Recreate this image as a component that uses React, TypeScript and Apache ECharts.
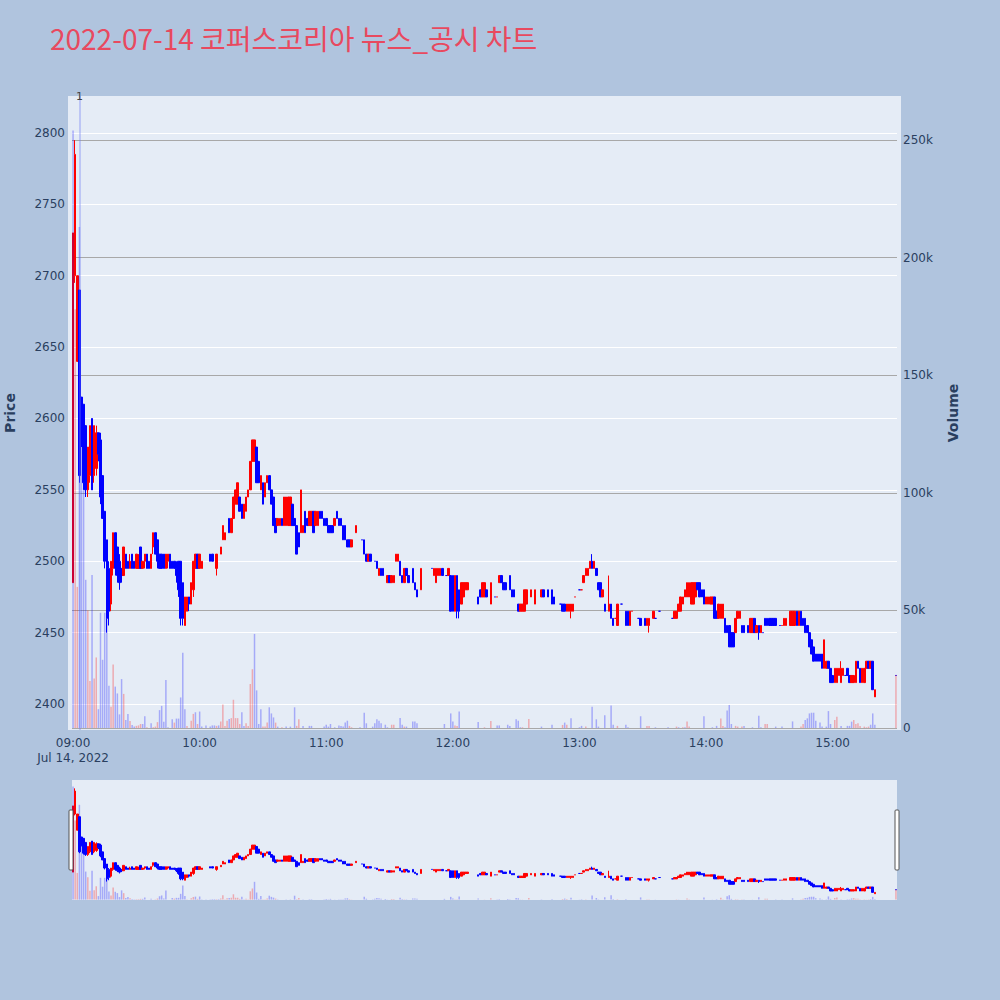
import React, { useEffect, useRef } from 'react';
import * as echarts from 'echarts';

const TITLE = '2022-07-14 코퍼스코리아 뉴스_공시 차트';
const DATE_LABEL = 'Jul 14, 2022';
const SESSION = ['09:00', '15:30'];
const HOUR_TICKS = ['09:00', '10:00', '11:00', '12:00', '13:00', '14:00', '15:00'];
const PRICE_RANGE = [2381.8, 2825.9];
const VOLUME_RANGE = [-850, 268700];
const NEWS: [string, string][] = [['09:03', '1']];

// [time, open, close, low, high]
const candles: [string, number, number, number, number][] = [
  ['09:00', 2485, 2730, 2485, 2730], ['09:01', 2700, 2785, 2695, 2795], ['09:02', 2640, 2700, 2640, 2700],
  ['09:03', 2690, 2560, 2555, 2690], ['09:04', 2615, 2585, 2580, 2615], ['09:05', 2610, 2555, 2550, 2610],
  ['09:06', 2595, 2550, 2545, 2595], ['09:07', 2550, 2580, 2545, 2580], ['09:08', 2560, 2595, 2555, 2595],
  ['09:09', 2600, 2550, 2550, 2600], ['09:10', 2560, 2595, 2555, 2595], ['09:11', 2565, 2590, 2560, 2595],
  ['09:12', 2590, 2575, 2570, 2590], ['09:13', 2585, 2545, 2540, 2590], ['09:14', 2560, 2530, 2530, 2560],
  ['09:15', 2535, 2500, 2495, 2535], ['09:16', 2515, 2460, 2450, 2515], ['09:17', 2495, 2465, 2455, 2500],
  ['09:18', 2470, 2500, 2465, 2500], ['09:19', 2495, 2520, 2490, 2520], ['09:20', 2520, 2495, 2490, 2520],
  ['09:21', 2510, 2490, 2485, 2510], ['09:22', 2500, 2485, 2480, 2505], ['09:23', 2495, 2490, 2485, 2495],
  ['09:24', 2490, 2510, 2490, 2510], ['09:25', 2505, 2495, 2495, 2505], ['09:26', 2500, 2495, 2495, 2500],
  ['09:27', 2495, 2500, 2495, 2505], ['09:28', 2505, 2495, 2495, 2505], ['09:29', 2500, 2495, 2495, 2500],
  ['09:30', 2495, 2505, 2495, 2505], ['09:31', 2495, 2500, 2495, 2505], ['09:32', 2510, 2495, 2495, 2510],
  ['09:33', 2495, 2500, 2495, 2500], ['09:34', 2500, 2505, 2495, 2505], ['09:35', 2505, 2495, 2495, 2505],
  ['09:36', 2500, 2495, 2495, 2500], ['09:37', 2495, 2505, 2495, 2505], ['09:38', 2510, 2520, 2505, 2520],
  ['09:39', 2520, 2505, 2505, 2520], ['09:40', 2515, 2500, 2495, 2515], ['09:41', 2505, 2495, 2495, 2505],
  ['09:42', 2505, 2495, 2495, 2505], ['09:43', 2505, 2495, 2495, 2505], ['09:44', 2495, 2505, 2495, 2505],
  ['09:45', 2500, 2505, 2495, 2505], ['09:46', 2505, 2495, 2495, 2505], ['09:47', 2500, 2495, 2495, 2500],
  ['09:48', 2500, 2495, 2495, 2500], ['09:49', 2495, 2490, 2485, 2500], ['09:50', 2500, 2480, 2475, 2500],
  ['09:51', 2500, 2460, 2455, 2500], ['09:52', 2485, 2460, 2455, 2485], ['09:53', 2455, 2475, 2455, 2475],
  ['09:54', 2465, 2475, 2465, 2475], ['09:55', 2475, 2470, 2465, 2475], ['09:56', 2470, 2485, 2470, 2485],
  ['09:57', 2480, 2500, 2475, 2500], ['09:58', 2495, 2505, 2495, 2505], ['09:59', 2505, 2495, 2495, 2505],
  ['10:00', 2495, 2505, 2495, 2505], ['10:01', 2495, 2500, 2495, 2500], ['10:05', 2505, 2500, 2500, 2505],
  ['10:06', 2505, 2500, 2500, 2505], ['10:08', 2495, 2505, 2490, 2505], ['10:10', 2505, 2510, 2505, 2510],
  ['10:11', 2515, 2525, 2515, 2525], ['10:12', 2515, 2520, 2515, 2520], ['10:14', 2530, 2520, 2520, 2530],
  ['10:15', 2520, 2530, 2520, 2530], ['10:16', 2530, 2545, 2530, 2545], ['10:17', 2540, 2550, 2540, 2550],
  ['10:18', 2540, 2555, 2540, 2555], ['10:19', 2545, 2535, 2535, 2545], ['10:20', 2540, 2530, 2530, 2540],
  ['10:21', 2530, 2540, 2530, 2540], ['10:22', 2535, 2545, 2535, 2545], ['10:23', 2545, 2550, 2545, 2550],
  ['10:24', 2550, 2570, 2550, 2570], ['10:25', 2570, 2585, 2570, 2585], ['10:26', 2570, 2585, 2570, 2585],
  ['10:27', 2580, 2555, 2555, 2580], ['10:28', 2570, 2555, 2555, 2570], ['10:29', 2550, 2560, 2550, 2560],
  ['10:30', 2555, 2540, 2540, 2555], ['10:31', 2545, 2555, 2545, 2555], ['10:32', 2555, 2560, 2555, 2560],
  ['10:33', 2560, 2550, 2550, 2560], ['10:34', 2550, 2540, 2540, 2550], ['10:35', 2545, 2525, 2525, 2545],
  ['10:36', 2530, 2520, 2520, 2530], ['10:37', 2525, 2530, 2525, 2530], ['10:38', 2525, 2530, 2525, 2530],
  ['10:39', 2530, 2525, 2525, 2530], ['10:40', 2525, 2545, 2525, 2545], ['10:41', 2525, 2545, 2525, 2545],
  ['10:42', 2525, 2545, 2525, 2545], ['10:43', 2525, 2545, 2525, 2545], ['10:44', 2540, 2525, 2525, 2540],
  ['10:45', 2530, 2525, 2525, 2530], ['10:46', 2525, 2505, 2505, 2525], ['10:47', 2520, 2510, 2510, 2520],
  ['10:48', 2520, 2550, 2520, 2550], ['10:49', 2520, 2525, 2520, 2525], ['10:50', 2535, 2520, 2520, 2535],
  ['10:51', 2530, 2525, 2525, 2530], ['10:52', 2525, 2535, 2525, 2535], ['10:53', 2525, 2535, 2525, 2535],
  ['10:54', 2535, 2520, 2520, 2535], ['10:55', 2525, 2535, 2525, 2535], ['10:56', 2525, 2535, 2525, 2535],
  ['10:57', 2535, 2530, 2530, 2535], ['10:58', 2535, 2530, 2530, 2535], ['10:59', 2530, 2525, 2525, 2530],
  ['11:00', 2530, 2525, 2525, 2530], ['11:01', 2525, 2520, 2520, 2525], ['11:02', 2525, 2520, 2520, 2525],
  ['11:03', 2525, 2520, 2520, 2525], ['11:04', 2525, 2530, 2525, 2530], ['11:05', 2535, 2530, 2530, 2535],
  ['11:06', 2530, 2525, 2525, 2530], ['11:07', 2530, 2525, 2525, 2530], ['11:08', 2525, 2515, 2515, 2525],
  ['11:09', 2525, 2515, 2515, 2525], ['11:10', 2515, 2510, 2510, 2515], ['11:11', 2515, 2510, 2510, 2515],
  ['11:12', 2510, 2515, 2510, 2515], ['11:14', 2520, 2525, 2520, 2525], ['11:17', 2515, 2515, 2515, 2515],
  ['11:18', 2515, 2505, 2505, 2515], ['11:19', 2505, 2500, 2500, 2505], ['11:20', 2500, 2505, 2500, 2505],
  ['11:21', 2505, 2500, 2500, 2505], ['11:23', 2500, 2500, 2500, 2500], ['11:24', 2500, 2495, 2495, 2500],
  ['11:25', 2490, 2495, 2490, 2495], ['11:26', 2495, 2490, 2490, 2495], ['11:27', 2495, 2490, 2490, 2495],
  ['11:29', 2485, 2490, 2485, 2490], ['11:30', 2490, 2485, 2485, 2490], ['11:31', 2485, 2490, 2485, 2490],
  ['11:32', 2485, 2490, 2485, 2490], ['11:33', 2500, 2505, 2500, 2505], ['11:34', 2500, 2505, 2500, 2505],
  ['11:35', 2500, 2490, 2490, 2500], ['11:36', 2490, 2485, 2485, 2490], ['11:37', 2485, 2495, 2485, 2495],
  ['11:38', 2495, 2490, 2490, 2495], ['11:39', 2490, 2485, 2485, 2490], ['11:41', 2495, 2485, 2485, 2495],
  ['11:42', 2485, 2480, 2480, 2485], ['11:43', 2480, 2475, 2475, 2480], ['11:45', 2480, 2495, 2480, 2495],
  ['11:50', 2495, 2495, 2495, 2495], ['11:51', 2490, 2495, 2490, 2495], ['11:52', 2485, 2495, 2485, 2495],
  ['11:53', 2490, 2495, 2490, 2495], ['11:54', 2490, 2495, 2490, 2495], ['11:55', 2495, 2490, 2490, 2495],
  ['11:57', 2490, 2490, 2490, 2490], ['11:58', 2490, 2495, 2490, 2495], ['11:59', 2490, 2465, 2465, 2490],
  ['12:00', 2490, 2465, 2465, 2490], ['12:01', 2465, 2490, 2465, 2490], ['12:02', 2490, 2465, 2460, 2490],
  ['12:03', 2480, 2465, 2460, 2480], ['12:04', 2470, 2485, 2470, 2485], ['12:05', 2475, 2485, 2475, 2485],
  ['12:06', 2480, 2485, 2480, 2485], ['12:07', 2480, 2485, 2480, 2485], ['12:12', 2475, 2470, 2470, 2475],
  ['12:13', 2480, 2475, 2475, 2480], ['12:14', 2475, 2485, 2475, 2485], ['12:15', 2475, 2485, 2475, 2485],
  ['12:16', 2480, 2475, 2475, 2480], ['12:18', 2470, 2485, 2470, 2485], ['12:20', 2475, 2475, 2475, 2475],
  ['12:21', 2475, 2475, 2475, 2475], ['12:22', 2485, 2490, 2485, 2490], ['12:23', 2490, 2485, 2485, 2490],
  ['12:24', 2485, 2480, 2480, 2485], ['12:25', 2485, 2480, 2480, 2485], ['12:27', 2490, 2480, 2480, 2490],
  ['12:28', 2480, 2475, 2475, 2480], ['12:29', 2480, 2475, 2475, 2480], ['12:31', 2470, 2465, 2465, 2470],
  ['12:32', 2465, 2470, 2465, 2470], ['12:33', 2465, 2470, 2465, 2470], ['12:34', 2465, 2480, 2465, 2480],
  ['12:35', 2470, 2480, 2470, 2480], ['12:37', 2475, 2480, 2475, 2480], ['12:39', 2470, 2480, 2470, 2480],
  ['12:42', 2475, 2480, 2475, 2480], ['12:43', 2480, 2475, 2475, 2480], ['12:45', 2480, 2475, 2475, 2480],
  ['12:47', 2480, 2470, 2470, 2480], ['12:48', 2475, 2470, 2470, 2475], ['12:51', 2470, 2470, 2470, 2470],
  ['12:52', 2470, 2465, 2465, 2470], ['12:53', 2470, 2465, 2465, 2470], ['12:54', 2465, 2470, 2465, 2470],
  ['12:55', 2465, 2470, 2465, 2470], ['12:56', 2465, 2470, 2460, 2470], ['12:57', 2465, 2470, 2465, 2470],
  ['12:58', 2475, 2475, 2475, 2475], ['13:00', 2480, 2480, 2480, 2480], ['13:01', 2480, 2480, 2480, 2480],
  ['13:02', 2485, 2490, 2485, 2490], ['13:03', 2490, 2495, 2490, 2495], ['13:04', 2490, 2495, 2490, 2495],
  ['13:05', 2495, 2500, 2495, 2500], ['13:06', 2500, 2495, 2495, 2505], ['13:07', 2495, 2500, 2495, 2500],
  ['13:08', 2495, 2490, 2490, 2495], ['13:09', 2485, 2480, 2480, 2485], ['13:10', 2485, 2475, 2475, 2485],
  ['13:11', 2475, 2480, 2475, 2480], ['13:12', 2470, 2465, 2465, 2470], ['13:14', 2465, 2470, 2465, 2490],
  ['13:15', 2470, 2460, 2460, 2470], ['13:16', 2460, 2455, 2455, 2460], ['13:17', 2460, 2460, 2460, 2460],
  ['13:18', 2455, 2470, 2455, 2470], ['13:20', 2470, 2470, 2470, 2470], ['13:22', 2465, 2455, 2455, 2465],
  ['13:23', 2465, 2455, 2455, 2465], ['13:24', 2455, 2465, 2455, 2465], ['13:25', 2465, 2465, 2465, 2465],
  ['13:28', 2460, 2460, 2460, 2460], ['13:29', 2460, 2455, 2455, 2460], ['13:31', 2460, 2455, 2455, 2460],
  ['13:32', 2455, 2460, 2455, 2460], ['13:33', 2455, 2460, 2450, 2460], ['13:35', 2460, 2465, 2460, 2465],
  ['13:36', 2460, 2460, 2460, 2460], ['13:38', 2465, 2465, 2465, 2465], ['13:44', 2460, 2460, 2460, 2460],
  ['13:45', 2460, 2465, 2460, 2465], ['13:46', 2460, 2465, 2460, 2465], ['13:47', 2465, 2470, 2465, 2470],
  ['13:48', 2465, 2475, 2465, 2475], ['13:49', 2470, 2475, 2470, 2475], ['13:50', 2475, 2480, 2475, 2480],
  ['13:51', 2475, 2485, 2475, 2485], ['13:52', 2475, 2485, 2475, 2485], ['13:53', 2470, 2485, 2470, 2485],
  ['13:54', 2470, 2485, 2470, 2485], ['13:55', 2475, 2485, 2475, 2485], ['13:56', 2485, 2480, 2480, 2485],
  ['13:57', 2485, 2475, 2475, 2485], ['13:58', 2480, 2475, 2475, 2480], ['13:59', 2480, 2470, 2470, 2480],
  ['14:00', 2470, 2475, 2470, 2475], ['14:01', 2470, 2475, 2470, 2475], ['14:02', 2470, 2475, 2470, 2475],
  ['14:03', 2470, 2475, 2470, 2475], ['14:04', 2475, 2460, 2460, 2475], ['14:05', 2465, 2460, 2460, 2465],
  ['14:06', 2460, 2470, 2460, 2470], ['14:07', 2460, 2470, 2460, 2470], ['14:08', 2460, 2470, 2460, 2470],
  ['14:09', 2460, 2450, 2450, 2460], ['14:10', 2455, 2450, 2450, 2455], ['14:11', 2455, 2440, 2440, 2455],
  ['14:12', 2450, 2440, 2440, 2450], ['14:13', 2450, 2440, 2440, 2450], ['14:14', 2450, 2460, 2450, 2460],
  ['14:15', 2460, 2465, 2460, 2465], ['14:16', 2460, 2465, 2460, 2465], ['14:17', 2455, 2450, 2450, 2455],
  ['14:18', 2455, 2450, 2450, 2455], ['14:20', 2455, 2450, 2450, 2455], ['14:21', 2450, 2460, 2450, 2460],
  ['14:22', 2450, 2460, 2450, 2460], ['14:23', 2460, 2450, 2450, 2460], ['14:24', 2450, 2455, 2450, 2455],
  ['14:25', 2455, 2450, 2445, 2455], ['14:26', 2450, 2455, 2450, 2455], ['14:27', 2450, 2450, 2450, 2450],
  ['14:28', 2460, 2455, 2455, 2460], ['14:29', 2460, 2455, 2455, 2460], ['14:30', 2460, 2455, 2455, 2460],
  ['14:31', 2460, 2455, 2455, 2460], ['14:32', 2460, 2455, 2455, 2460], ['14:33', 2460, 2455, 2455, 2460],
  ['14:35', 2455, 2455, 2455, 2455], ['14:36', 2455, 2455, 2455, 2455], ['14:37', 2455, 2460, 2455, 2460],
  ['14:38', 2455, 2460, 2455, 2460], ['14:40', 2455, 2465, 2455, 2465], ['14:41', 2455, 2465, 2455, 2465],
  ['14:42', 2455, 2465, 2455, 2465], ['14:43', 2465, 2455, 2455, 2465], ['14:44', 2455, 2465, 2455, 2465],
  ['14:45', 2465, 2455, 2455, 2465], ['14:46', 2460, 2455, 2455, 2460], ['14:47', 2460, 2450, 2450, 2460],
  ['14:48', 2455, 2450, 2450, 2455], ['14:49', 2450, 2440, 2440, 2450], ['14:50', 2445, 2435, 2435, 2445],
  ['14:51', 2440, 2430, 2430, 2440], ['14:52', 2435, 2430, 2430, 2435], ['14:53', 2435, 2430, 2430, 2435],
  ['14:54', 2435, 2430, 2430, 2435], ['14:55', 2435, 2425, 2425, 2435], ['14:56', 2425, 2445, 2425, 2445],
  ['14:57', 2425, 2430, 2425, 2430], ['14:58', 2430, 2425, 2425, 2430], ['14:59', 2425, 2415, 2415, 2425],
  ['15:00', 2420, 2415, 2415, 2420], ['15:01', 2415, 2425, 2415, 2425], ['15:02', 2415, 2425, 2415, 2425],
  ['15:03', 2420, 2425, 2420, 2425], ['15:04', 2415, 2425, 2415, 2430], ['15:05', 2420, 2425, 2420, 2425],
  ['15:06', 2420, 2420, 2420, 2420], ['15:07', 2425, 2420, 2420, 2425], ['15:08', 2420, 2415, 2415, 2420],
  ['15:09', 2415, 2420, 2415, 2420], ['15:10', 2415, 2420, 2415, 2420], ['15:11', 2415, 2430, 2415, 2430],
  ['15:12', 2430, 2425, 2425, 2430], ['15:13', 2425, 2415, 2415, 2425], ['15:14', 2415, 2425, 2415, 2425],
  ['15:15', 2415, 2425, 2415, 2425], ['15:16', 2425, 2430, 2425, 2430], ['15:17', 2430, 2425, 2425, 2430],
  ['15:18', 2425, 2430, 2425, 2430], ['15:19', 2430, 2410, 2410, 2430], ['15:20', 2405, 2410, 2405, 2410],
  ['15:30', 2420, 2420, 2420, 2420],
];

// [time, volume, 1 = up / 0 = down]
const volumes: [string, number, number][] = [
  ['09:00', 254000, 0], ['09:01', 178000, 1], ['09:02', 60000, 1], ['09:03', 213000, 0], ['09:04', 120000, 0],
  ['09:05', 102000, 0], ['09:06', 63000, 0], ['09:07', 50000, 1], ['09:08', 20000, 1], ['09:09', 65000, 0],
  ['09:10', 21000, 1], ['09:11', 30000, 1], ['09:12', 8000, 0], ['09:13', 49000, 0], ['09:14', 29000, 0],
  ['09:15', 49000, 0], ['09:16', 47000, 0], ['09:17', 18000, 0], ['09:18', 9000, 1], ['09:19', 27000, 1],
  ['09:20', 17600, 0], ['09:21', 14700, 0], ['09:22', 5800, 0], ['09:23', 20800, 0], ['09:24', 14500, 1],
  ['09:25', 3400, 0], ['09:26', 6000, 0], ['09:27', 3000, 1], ['09:28', 1300, 0], ['09:29', 600, 0],
  ['09:30', 900, 1], ['09:31', 1100, 1], ['09:32', 1700, 1], ['09:33', 1700, 0], ['09:34', 5000, 0],
  ['09:35', 300, 1], ['09:37', 2000, 0], ['09:38', 300, 1], ['09:39', 600, 1], ['09:40', 2500, 1],
  ['09:41', 7600, 0], ['09:42', 9400, 0], ['09:43', 2700, 0], ['09:44', 20400, 0], ['09:45', 300, 0],
  ['09:47', 3700, 0], ['09:48', 2300, 1], ['09:49', 4000, 0], ['09:50', 4000, 0], ['09:51', 13000, 0],
  ['09:52', 32000, 0], ['09:53', 8000, 0], ['09:54', 900, 1], ['09:56', 3100, 1], ['09:57', 6000, 1],
  ['09:58', 6700, 0], ['09:59', 1700, 1], ['10:00', 7000, 0], ['10:01', 600, 0], ['10:03', 1100, 0],
  ['10:05', 600, 0], ['10:06', 1100, 0], ['10:07', 1100, 0], ['10:08', 900, 1], ['10:09', 1100, 0],
  ['10:10', 2800, 1], ['10:11', 10000, 1], ['10:12', 900, 1], ['10:13', 3100, 1], ['10:14', 3800, 0],
  ['10:15', 4200, 1], ['10:16', 12000, 1], ['10:17', 4200, 1], ['10:18', 4200, 1], ['10:19', 1700, 1],
  ['10:20', 6700, 0], ['10:21', 900, 0], ['10:22', 2000, 1], ['10:23', 900, 1], ['10:24', 18700, 1],
  ['10:25', 25000, 1], ['10:26', 40000, 0], ['10:27', 16000, 0], ['10:28', 1700, 0], ['10:29', 8000, 0],
  ['10:30', 600, 1], ['10:31', 600, 1], ['10:32', 2300, 1], ['10:33', 8800, 0], ['10:34', 6200, 0],
  ['10:35', 4500, 0], ['10:36', 2300, 1], ['10:37', 600, 0], ['10:39', 300, 1], ['10:41', 600, 0],
  ['10:43', 600, 0], ['10:45', 8800, 0], ['10:46', 900, 1], ['10:47', 3700, 1], ['10:49', 900, 0],
  ['10:52', 900, 0], ['10:53', 900, 0], ['10:59', 600, 0], ['11:00', 1400, 0], ['11:01', 600, 0],
  ['11:02', 1700, 0], ['11:04', 300, 0], ['11:06', 1100, 0], ['11:07', 900, 0], ['11:08', 600, 0],
  ['11:09', 2300, 0], ['11:10', 3100, 0], ['11:11', 900, 1], ['11:12', 300, 1], ['11:16', 300, 0],
  ['11:18', 6500, 0], ['11:19', 2000, 0], ['11:22', 600, 0], ['11:23', 2000, 0], ['11:24', 3700, 0],
  ['11:25', 3100, 0], ['11:26', 2000, 0], ['11:28', 1400, 0], ['11:29', 300, 0], ['11:31', 1400, 1],
  ['11:32', 1400, 1], ['11:35', 4200, 0], ['11:36', 1400, 0], ['11:37', 600, 1], ['11:38', 600, 0],
  ['11:41', 2800, 0], ['11:42', 2800, 0], ['11:43', 2000, 0], ['11:56', 1700, 0], ['11:59', 6200, 0],
  ['12:00', 2800, 0], ['12:01', 1100, 1], ['12:02', 900, 1], ['12:03', 7000, 0], ['12:12', 2500, 0],
  ['12:15', 300, 1], ['12:18', 3000, 1], ['12:21', 1100, 0], ['12:22', 1100, 0], ['12:26', 1400, 0],
  ['12:27', 900, 0], ['12:30', 3700, 0], ['12:31', 3100, 0], ['12:32', 300, 0], ['12:33', 300, 1],
  ['12:36', 3800, 1], ['12:42', 600, 0], ['12:47', 1400, 0], ['12:52', 1300, 1], ['12:53', 2300, 0],
  ['12:54', 1400, 1], ['12:56', 4100, 0], ['13:00', 300, 0], ['13:01', 900, 0], ['13:03', 600, 1],
  ['13:06', 9000, 0], ['13:08', 3700, 0], ['13:09', 600, 0], ['13:12', 5400, 0], ['13:15', 9600, 0],
  ['13:16', 1400, 0], ['13:18', 900, 1], ['13:22', 1400, 0], ['13:23', 300, 0], ['13:29', 5000, 0],
  ['13:32', 900, 1], ['13:33', 900, 1], ['13:36', 300, 0], ['13:42', 300, 0], ['13:46', 600, 1],
  ['13:47', 300, 0], ['13:49', 300, 1], ['13:50', 300, 0], ['13:51', 2800, 1], ['13:52', 600, 1],
  ['13:59', 5000, 0], ['14:03', 300, 0], ['14:05', 900, 0], ['14:07', 4000, 1], ['14:08', 900, 1],
  ['14:09', 300, 0], ['14:10', 7400, 0], ['14:11', 9800, 0], ['14:12', 1700, 0], ['14:14', 900, 1],
  ['14:15', 600, 1], ['14:17', 600, 1], ['14:18', 900, 0], ['14:22', 300, 0], ['14:25', 5200, 0],
  ['14:26', 300, 0], ['14:28', 1700, 1], ['14:29', 1700, 1], ['14:33', 600, 0], ['14:36', 600, 0],
  ['14:41', 2800, 0], ['14:45', 600, 1], ['14:46', 1700, 1], ['14:47', 3400, 0], ['14:48', 4100, 0],
  ['14:49', 6200, 0], ['14:50', 6500, 0], ['14:51', 6500, 0], ['14:52', 3100, 0], ['14:54', 2300, 0],
  ['14:55', 600, 0], ['14:57', 600, 0], ['14:58', 7200, 0], ['14:59', 1700, 0], ['15:01', 3400, 1],
  ['15:02', 4800, 1], ['15:04', 900, 0], ['15:07', 900, 0], ['15:08', 900, 0], ['15:09', 2700, 0],
  ['15:10', 3400, 1], ['15:11', 1700, 1], ['15:12', 2000, 1], ['15:13', 900, 1], ['15:15', 600, 1],
  ['15:16', 300, 1], ['15:17', 600, 1], ['15:18', 1400, 0], ['15:19', 6200, 0], ['15:20', 1400, 0],
  ['15:30', 22500, 1],
];

const UP = '#ff0000';
const DOWN = '#0000ff';
const UP_VOL = 'rgba(255,0,0,0.28)';
const DOWN_VOL = 'rgba(0,0,255,0.28)';
const PLOT_BG = '#e5ecf6';
const PAPER_BG = '#b0c4de';
const AXIS_TEXT = '#2a3f5f';

function minuteCategories(start: string, end: string): string[] {
  const toMin = (s: string) => Number(s.slice(0, 2)) * 60 + Number(s.slice(3));
  const out: string[] = [];
  for (let m = toMin(start); m <= toMin(end); m++) {
    out.push(String(Math.floor(m / 60)).padStart(2, '0') + ':' + String(m % 60).padStart(2, '0'));
  }
  return out;
}

export default function App() {
  const ref = useRef<HTMLDivElement>(null);
  useEffect(() => {
    if (!ref.current) return;
    const chart = echarts.init(ref.current, null, { renderer: 'svg' });
    const cats = minuteCategories(SESSION[0], SESSION[1]);
    const index = new Map(cats.map((c, i) => [c, i]));
    const candleData: any[] = cats.map(() => '-');
    candles.forEach(([t, o, c, l, h]) => {
      candleData[index.get(t)!] = [o, c, l, h];
    });
    const volData: any[] = cats.map(() => '-');
    volumes.forEach(([t, v, up]) => {
      volData[index.get(t)!] = { value: v, itemStyle: { color: up ? UP_VOL : DOWN_VOL } };
    });

    const candleStyle = { color: UP, color0: DOWN, borderColor: UP, borderColor0: DOWN, borderWidth: 1 };

    chart.setOption({
      animation: false,
      backgroundColor: PAPER_BG,
      textStyle: { fontFamily: 'DejaVu Sans' },
      graphic: [
        { type: 'text', left: 50, top: 24, style: { text: TITLE, font: '28px "Noto Sans CJK KR"', fill: '#e8495f' } },
        { type: 'rect', shape: { x: 68, y: 96, width: 4, height: 634 }, style: { fill: PLOT_BG } },
        { type: 'rect', shape: { x: 897, y: 96, width: 4, height: 634 }, style: { fill: PLOT_BG } },
        { type: 'rect', z: 100, shape: { x: 69, y: 810, width: 4, height: 60, r: 1 }, style: { fill: '#fff', stroke: '#555', lineWidth: 1 } },
        { type: 'rect', z: 100, shape: { x: 895, y: 810, width: 4, height: 60, r: 1 }, style: { fill: '#fff', stroke: '#555', lineWidth: 1 } },
      ],
      grid: [
        { left: 72, top: 96, width: 825, height: 634, show: true, backgroundColor: PLOT_BG, borderWidth: 0, containLabel: false, outerBoundsMode: 'none' },
        { left: 72, top: 780, width: 825, height: 120, show: true, backgroundColor: PLOT_BG, borderWidth: 0, containLabel: false, outerBoundsMode: 'none' },
      ],
      xAxis: [
        {
          type: 'category', gridIndex: 0, data: cats, boundaryGap: true,
          axisLine: { show: false }, axisTick: { show: false }, splitLine: { show: false },
          axisLabel: {
            interval: (_i: number, v: string) => HOUR_TICKS.includes(v),
            formatter: (v: string) => (v === HOUR_TICKS[0] ? v + '\n' + DATE_LABEL : v),
            color: AXIS_TEXT, fontSize: 12, margin: 5, lineHeight: 15,
          },
        },
        {
          type: 'category', gridIndex: 1, data: cats, boundaryGap: true, show: false,
        },
      ],
      yAxis: [
        {
          type: 'value', gridIndex: 0, position: 'left', min: PRICE_RANGE[0], max: PRICE_RANGE[1], splitNumber: 9,
          name: 'Price', nameLocation: 'middle', nameGap: 55,
          nameTextStyle: { color: AXIS_TEXT, fontSize: 14, fontWeight: 'bold' },
          axisLine: { show: false }, axisTick: { show: false },
          axisLabel: {
            color: AXIS_TEXT, fontSize: 12, margin: 7, showMinLabel: false, showMaxLabel: false,
            formatter: (v: number) => String(v),
          },
          splitLine: { show: true, showMinLine: false, showMaxLine: false, lineStyle: { color: '#ffffff', width: 1 } },
        },
        {
          type: 'value', gridIndex: 0, position: 'right', min: VOLUME_RANGE[0], max: VOLUME_RANGE[1], splitNumber: 5,
          name: 'Volume', nameLocation: 'middle', nameGap: 49,
          nameTextStyle: { color: AXIS_TEXT, fontSize: 14, fontWeight: 'bold' },
          axisLine: { show: false }, axisTick: { show: false },
          axisLabel: {
            color: AXIS_TEXT, fontSize: 12, margin: 6, showMinLabel: false, showMaxLabel: false,
            formatter: (v: number) => (v === 0 ? '0' : v / 1000 + 'k'),
          },
          splitLine: { show: true, showMinLine: false, showMaxLine: false, lineStyle: { color: '#a8a8a8', width: 1 } },
        },
        { type: 'value', gridIndex: 1, min: PRICE_RANGE[0], max: PRICE_RANGE[1], show: false, splitLine: { show: false } },
        { type: 'value', gridIndex: 1, min: VOLUME_RANGE[0], max: VOLUME_RANGE[1], show: false, splitLine: { show: false } },
      ],
      series: [
        {
          type: 'candlestick', xAxisIndex: 0, yAxisIndex: 0, data: candleData, barWidth: 2,
          itemStyle: candleStyle,
          markLine: {
            silent: true, symbol: 'none', animation: false,
            lineStyle: { color: 'rgba(110,125,245,0.45)', width: 1.5, type: 'solid' },
            label: { show: true, position: 'end', color: '#444', fontSize: 11, distance: -6 },
            data: NEWS.map(([t, label]) => ({ xAxis: t, label: { formatter: label } })),
          },
        },
        {
          type: 'bar', xAxisIndex: 0, yAxisIndex: 1, data: volData, barWidth: 1.5, z: 3,
        },
        {
          type: 'candlestick', xAxisIndex: 1, yAxisIndex: 2, data: candleData, barWidth: 2,
          itemStyle: candleStyle,
        },
        {
          type: 'bar', xAxisIndex: 1, yAxisIndex: 3, data: volData, barWidth: 1.5, z: 3,
        },
      ],
    });
    return () => chart.dispose();
  }, []);
  return <div ref={ref} style={{ position: 'fixed', left: 0, top: 0, width: 1000, height: 1000 }} />;
}
